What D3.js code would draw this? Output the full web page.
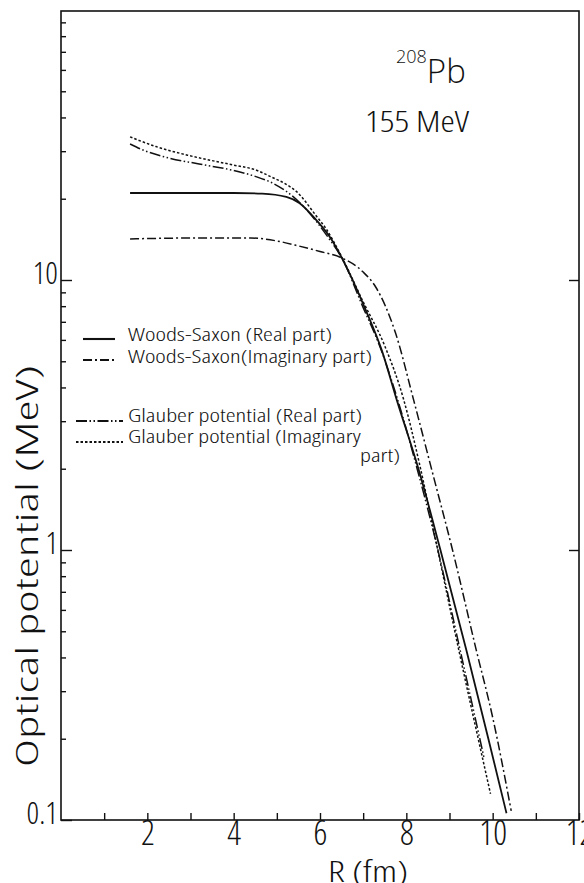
<!DOCTYPE html>
<html>
<head>
<meta charset="utf-8">
<script src="https://cdn.jsdelivr.net/npm/d3@7"></script>
<style>
  body { margin: 0; background: #fff; }
  svg { display: block; }
  text { font-family: "Open Sans", "Liberation Sans Narrow", sans-serif; font-weight: 300; font-stretch: condensed; fill: #111; }
</style>
</head>
<body>
<div id="chart"></div>
<script>
// Woods-Saxon real part (solid)
const wsRealR = [1.6, 3.0, 4.0, 4.66, 5.22, 5.52, 5.91, 6.27, 6.49, 7.06, 7.43, 7.78, 8.3, 8.79, 9.39, 9.9, 10.32];
const wsRealV = [21.0, 21.0, 21.0, 20.9, 20.3, 19.3, 16.7, 14.1, 12.2, 7.74, 5.5, 3.59, 1.95, 1.0, 0.426, 0.2, 0.106];

// Woods-Saxon imaginary part (dash-dot)
const wsImagR = [1.6, 3.0, 4.4, 5.0, 5.52, 6.0, 6.49, 7.0, 7.29, 7.75, 8.17, 8.6, 9.07, 9.62, 10.0, 10.43];
const wsImagV = [14.2, 14.3, 14.3, 13.95, 13.35, 12.75, 12.1, 10.7, 9.42, 6.36, 3.59, 1.95, 1.0, 0.426, 0.24, 0.108];

// Glauber real part (long dash, two dots)
const glRealR = [1.6, 1.9, 2.5, 3.2, 3.97, 4.5, 4.89, 5.2, 5.45, 5.9, 6.2, 6.49, 7.0, 7.4, 7.8, 8.25, 8.7, 9.2, 9.8];
const glRealV = [31.9, 30.3, 28.3, 26.9, 25.5, 24.2, 22.9, 21.4, 19.9, 16.6, 14.3, 12.2, 7.9, 5.6, 3.6, 2.0, 1.05, 0.46, 0.17];

// Glauber imaginary part (dotted)
const glImagR = [1.6, 2.2, 2.93, 3.97, 4.5, 4.89, 5.2, 5.45, 5.91, 6.15, 6.49, 7.0, 7.5, 7.94, 8.3, 8.7, 9.21, 9.95];
const glImagV = [33.9, 31.2, 29.0, 26.7, 25.6, 24.0, 22.7, 21.3, 17.3, 15.4, 12.3, 8.3, 5.7, 3.6, 2.1, 1.05, 0.43, 0.125];

const seriesNames = [
  "Woods-Saxon (Real part)",
  "Woods-Saxon(Imaginary part)",
  "Glauber potential (Real part)",
  "Glauber potential (Imaginary"
];

// tick values
const xTicks = [1, 2, 3, 4, 5, 6, 7, 8, 9, 10, 11, 12];
const xTickLabels = [2, 4, 6, 8, 10, 12];
const yMajorTicks = [0.1, 1, 10];
const yMinorTicks = [0.2, 0.3, 0.4, 0.5, 0.6, 0.7, 0.8, 0.9,
                     2, 3, 4, 5, 6, 7, 8, 9,
                     20, 30, 40, 50, 60, 70, 80, 90];

var width = 584, height = 883;

var svg = d3.select("#chart")
  .append("svg")
    .attr("width", width)
    .attr("height", height);

var x = d3.scaleLinear().domain([0, 12]).range([61, 579]);
var y = d3.scaleLog().domain([0.1, 100]).range([820, 10]);

// frame
svg.append("rect")
  .attr("x", x(0)).attr("y", 11)
  .attr("width", x(12) - x(0)).attr("height", y(0.1) - 11)
  .attr("fill", "none").attr("stroke", "#111").attr("stroke-width", 1.6);

// X axis, ticks inward
var gx = svg.append("g")
  .attr("transform", "translate(0," + y(0.1) + ")")
  .call(d3.axisBottom(x).tickValues(xTicks).tickSize(-7).tickPadding(1)
    .tickFormat(function(d) { return xTickLabels.indexOf(d) >= 0 ? d : ""; }));
gx.select(".domain").remove();
gx.selectAll("line").attr("stroke", "#111").attr("stroke-width", 1.4);
gx.selectAll("text").attr("font-size", 34).attr("fill", "#111");

// Y axis minor ticks
var gym = svg.append("g")
  .attr("transform", "translate(" + x(0) + ",0)")
  .call(d3.axisLeft(y).tickValues(yMinorTicks).tickSize(-5).tickFormat(""));
gym.select(".domain").remove();
gym.selectAll("line").attr("stroke", "#111").attr("stroke-width", 1.4);

// Y axis major ticks + labels
var gy = svg.append("g")
  .attr("transform", "translate(" + x(0) + ",0)")
  .call(d3.axisLeft(y).tickValues(yMajorTicks).tickSize(-11).tickPadding(3)
    .tickFormat(function(d) { return d < 1 ? "0.1" : d3.format("d")(d); }));
gy.select(".domain").remove();
gy.selectAll("line").attr("stroke", "#111").attr("stroke-width", 1.4);
gy.selectAll("text").attr("font-size", 31).attr("dy", "0.1em").attr("fill", "#111");

// right axis ticks
var gr = svg.append("g")
  .attr("transform", "translate(" + x(12) + ",0)")
  .call(d3.axisRight(y).tickValues([1, 10]).tickSize(-10).tickFormat(""));
gr.select(".domain").remove();
gr.selectAll("line").attr("stroke", "#111").attr("stroke-width", 1.4);

// curves
var line = d3.line()
  .x(function(d) { return x(d[0]); })
  .y(function(d) { return y(d[1]); })
  .curve(d3.curveMonotoneX);

var curves = [
  { r: wsRealR, v: wsRealV, dash: null, w: 1.8 },
  { r: wsImagR, v: wsImagV, dash: "9,3,2,3", w: 1.5 },
  { r: glRealR, v: glRealV, dash: "11,2.5,1.5,2.5,1.5,2.5", w: 1.5 },
  { r: glImagR, v: glImagV, dash: "2.5,2", w: 1.5 }
];

curves.forEach(function(c) {
  svg.append("path")
    .datum(d3.zip(c.r, c.v))
    .attr("fill", "none")
    .attr("stroke", "#111")
    .attr("stroke-width", c.w)
    .attr("stroke-dasharray", c.dash)
    .attr("d", line);
});

// legend
var legendRows = [
  { x1: 83, x2: 115, ly: 339, ty: 341, tw: 204 },
  { x1: 83, x2: 115, ly: 360, ty: 363, tw: 244 },
  { x1: 76, x2: 123, ly: 421, ty: 422, tw: 234 },
  { x1: 76, x2: 123, ly: 442, ty: 443, tw: 233 }
];
legendRows.forEach(function(r, i) {
  svg.append("line")
    .attr("x1", r.x1).attr("x2", r.x2).attr("y1", r.ly).attr("y2", r.ly)
    .attr("stroke", "#111").attr("stroke-width", curves[i].w + 0.3)
    .attr("stroke-dasharray", curves[i].dash);
  svg.append("text")
    .attr("x", 128).attr("y", r.ty)
    .attr("font-size", 19)
    .attr("textLength", r.tw).attr("lengthAdjust", "spacingAndGlyphs")
    .text(seriesNames[i]);
});
svg.append("text")
  .attr("x", 360).attr("y", 462)
  .attr("font-size", 19)
  .attr("textLength", 40).attr("lengthAdjust", "spacingAndGlyphs")
  .text("part)");

// nucleus / energy annotation
var ann = svg.append("text").attr("x", 396).attr("y", 83).style("font-stretch", "normal");
ann.append("tspan").attr("font-size", 18).attr("dy", -20).text("208");
ann.append("tspan").attr("font-size", 33).attr("dy", 20).text("Pb");

svg.append("text")
  .attr("x", 365).attr("y", 132)
  .attr("font-size", 30)
  .attr("textLength", 104).attr("lengthAdjust", "spacingAndGlyphs")
  .text("155 MeV");

// axis titles
svg.append("text")
  .attr("text-anchor", "middle")
  .attr("font-size", 32)
  .attr("transform", "translate(38,566) rotate(-90)")
  .attr("textLength", 402).attr("lengthAdjust", "spacingAndGlyphs")
  .text("Optical  potential (MeV)");

svg.append("text")
  .attr("text-anchor", "middle")
  .attr("x", 368).attr("y", 882)
  .attr("font-size", 30)
  .attr("textLength", 80).attr("lengthAdjust", "spacingAndGlyphs")
  .text("R (fm)");
</script>
</body>
</html>
